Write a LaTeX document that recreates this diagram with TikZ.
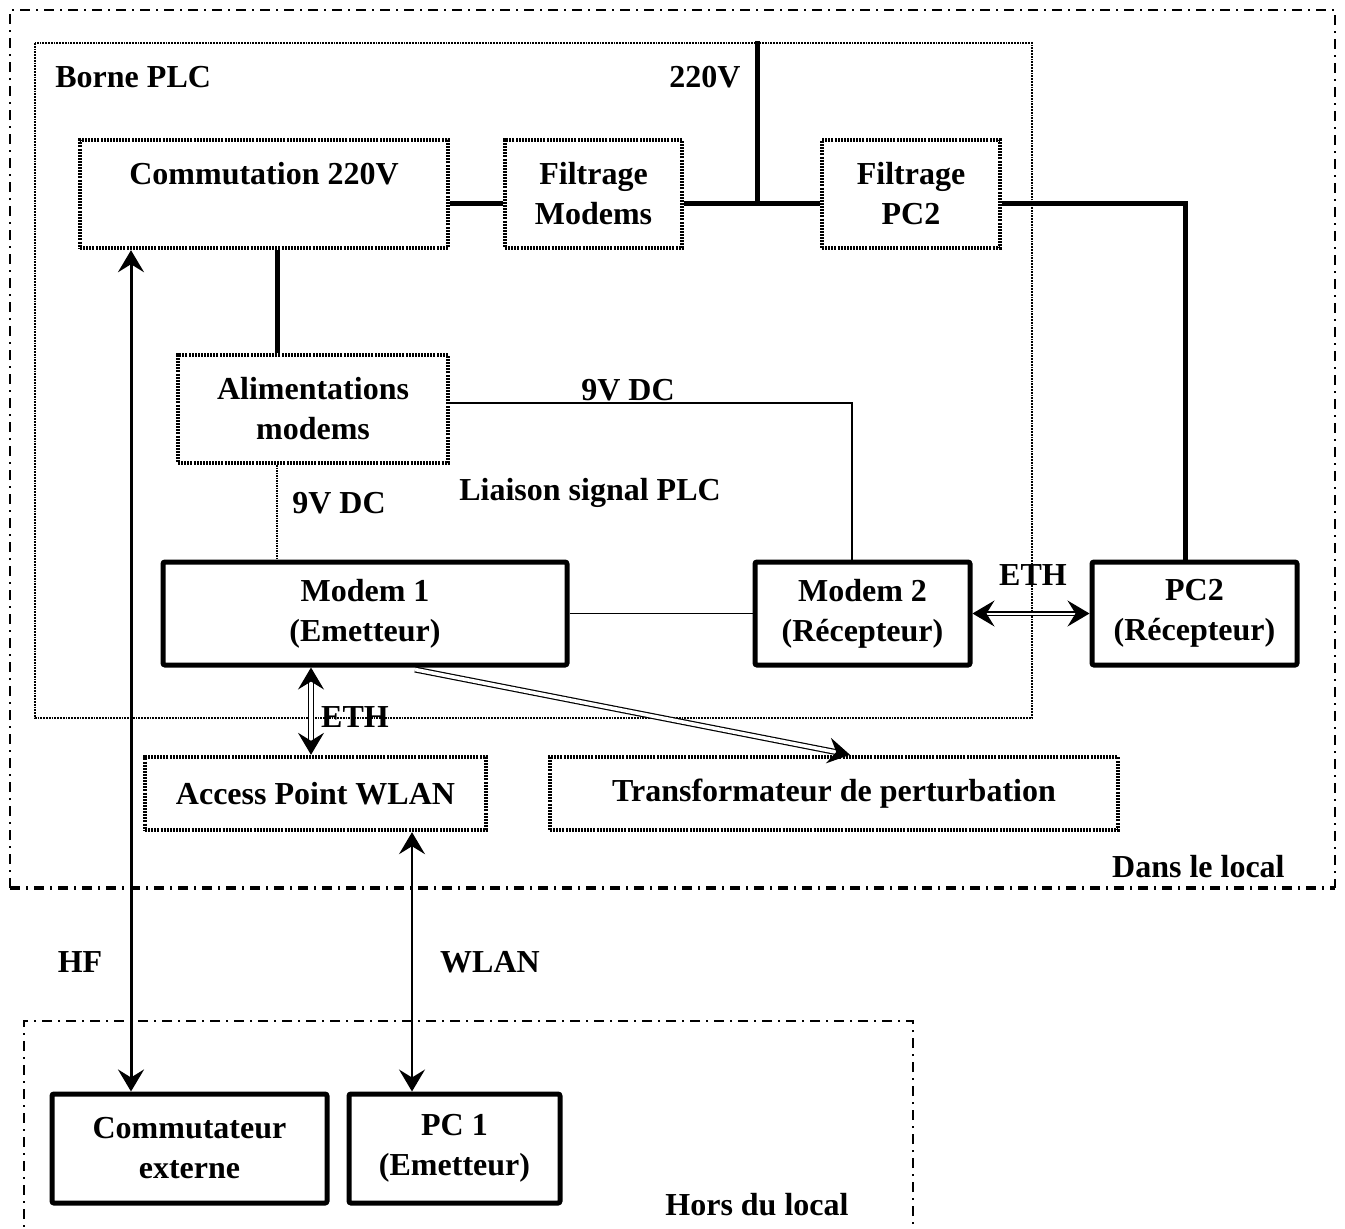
\documentclass[tikz,border=0pt]{standalone}
\usepackage{fontspec}
\setmainfont{Liberation Serif}
\usetikzlibrary{arrows.meta}
\begin{document}
\begin{tikzpicture}[x=0.5pt,y=-0.5pt,
  font=\fontsize{16}{20}\selectfont\bfseries,
  every node/.style={inner sep=0pt,align=center},
  dotbox/.style={draw,line width=2.2pt,dash pattern=on 1pt off 0.55pt,minimum height=54pt},
  solbox/.style={draw,line width=2.5pt,rounded corners=1pt,minimum height=51.5pt},
  lbl/.style={},
  pwr/.style={line width=2.5pt},
  thinl/.style={line width=0.8pt},
  dotl/.style={line width=0.8pt,dash pattern=on 0.75pt off 0.5pt},
  frame/.style={line width=0.9pt,dash pattern=on 0.9pt off 0.5pt},
  dashdot/.style={line width=1pt,dash pattern=on 5pt off 3pt on 1pt off 3pt},
  tip/.style={-{Stealth[length=11pt,width=13pt,inset=4pt]}},
  tips/.style={{Stealth[length=11pt,width=13pt,inset=4pt]}-{Stealth[length=11pt,width=13pt,inset=4pt]}},
  dbl/.style={double,double distance=1.8pt,line width=0.6pt}
]
\useasboundingbox (0,0) rectangle (1345,1228);

% frames
\draw[dashdot] (10,888) -- (10,10) -- (1335,10) -- (1335,888);
\draw[dashdot,line width=2pt] (10,888) -- (1335,888);
\draw[frame] (35,43) rectangle (1032,718);
\draw[dashdot,line width=0.8pt] (913,1240) -- (913,1021) -- (24,1021) -- (24,1240);

% dotted boxes
\node[dotbox,minimum width=184pt] (comm) at (264,194) {};
\node[lbl] (commtext) at (264,174) {Commutation 220V};
\node[dotbox,minimum width=88.5pt] (filtm) at (593.5,194) {Filtrage\\Modems};
\node[dotbox,minimum width=89pt] (filtp) at (911,194) {Filtrage\\PC2};
\node[dotbox,minimum width=135pt] (alim) at (313,409) {Alimentations\\modems};
\node[dotbox,minimum width=170.5pt,minimum height=36.5pt] (ap) at (315.5,793.5) {Access Point WLAN};
\node[dotbox,minimum width=284pt,minimum height=36.5pt] (trans) at (834,793.5) {Transformateur de perturbation};

% solid boxes
\node[solbox,minimum width=202pt] (modem1) at (365,613.5) {Modem 1\\(Emetteur)};
\node[solbox,minimum width=107.5pt] (modem2) at (862.5,613.5) {Modem 2\\(Récepteur)};
\node[solbox,minimum width=102.5pt] (pc2) at (1194.5,613.5) {PC2\\(Récepteur)};
\node[solbox,minimum width=137.5pt,minimum height=54.5pt] (comext) at (189.5,1148.5) {Commutateur\\externe};
\node[solbox,minimum width=105.5pt,minimum height=54.5pt] (pc1) at (454.5,1148.5) {PC 1\\(Emetteur)};

% labels
\node[lbl,anchor=west] (borne) at (55,77) {Borne PLC};
\node[lbl] (v220) at (705,77) {220V};
\node[lbl] (dc1) at (628,390) {9V DC};
\node[lbl] (dc2) at (339,503) {9V DC};
\node[lbl] (liaison) at (590,493) {Liaison signal PLC};
\node[lbl] (eth1) at (1033,575) {ETH};
\node[lbl] (eth2) at (355,717) {ETH};
\node[lbl,anchor=east] (dans) at (1285,867) {Dans le local};
\node[lbl] (hf) at (80,962) {HF};
\node[lbl] (wlan) at (490,962) {WLAN};
\node[lbl,anchor=west] (hors) at (665,1205) {Hors du local};

% power lines
\coordinate (j220) at (757,203);
\coordinate (top220) at (757,41);
\draw[pwr] ([yshift=-4.5pt]comm.east) -- ([yshift=-4.5pt]filtm.west);
\draw[pwr] ([yshift=-4.5pt]filtm.east) -- ([yshift=-4.5pt]filtp.west);
\draw[pwr] (top220) -- (j220);
\draw[pwr] ([yshift=-4.5pt]filtp.east) -| ([xshift=-4.75pt]pc2.north);
\coordinate (a1) at ([xshift=-18pt]alim.north);
\draw[pwr] (a1) -- (a1 |- comm.south);

% 9V DC
\draw[thinl] ([yshift=3pt]alim.east) -| ([xshift=-5.25pt]modem2.north);
\coordinate (a2) at ([xshift=-18pt]alim.south);
\draw[dotl] (a2) -- (a2 |- modem1.north);

% PLC link
\draw[thinl] (modem1.east) -- (modem2.west);

% ETH
\draw[dbl,tips,double distance=1pt] (modem2.east) -- (pc2.west);
\coordinate (m1b) at ([xshift=-27pt]modem1.south);
\draw[dbl,tips] (m1b) -- (m1b |- ap.north);

% perturbation
\draw[dbl,tip] ([xshift=25pt,yshift=-1pt]modem1.south) -- ([xshift=8pt]trans.north);

% HF
\coordinate (hfa) at ([xshift=-66.5pt]comm.south);
\draw[line width=1.5pt,tips] (hfa) -- (hfa |- comext.north);

% WLAN
\coordinate (wl) at ([xshift=48.25pt]ap.south);
\draw[line width=0.7pt,tips] (wl) -- (wl |- pc1.north);
\end{tikzpicture}
\end{document}
